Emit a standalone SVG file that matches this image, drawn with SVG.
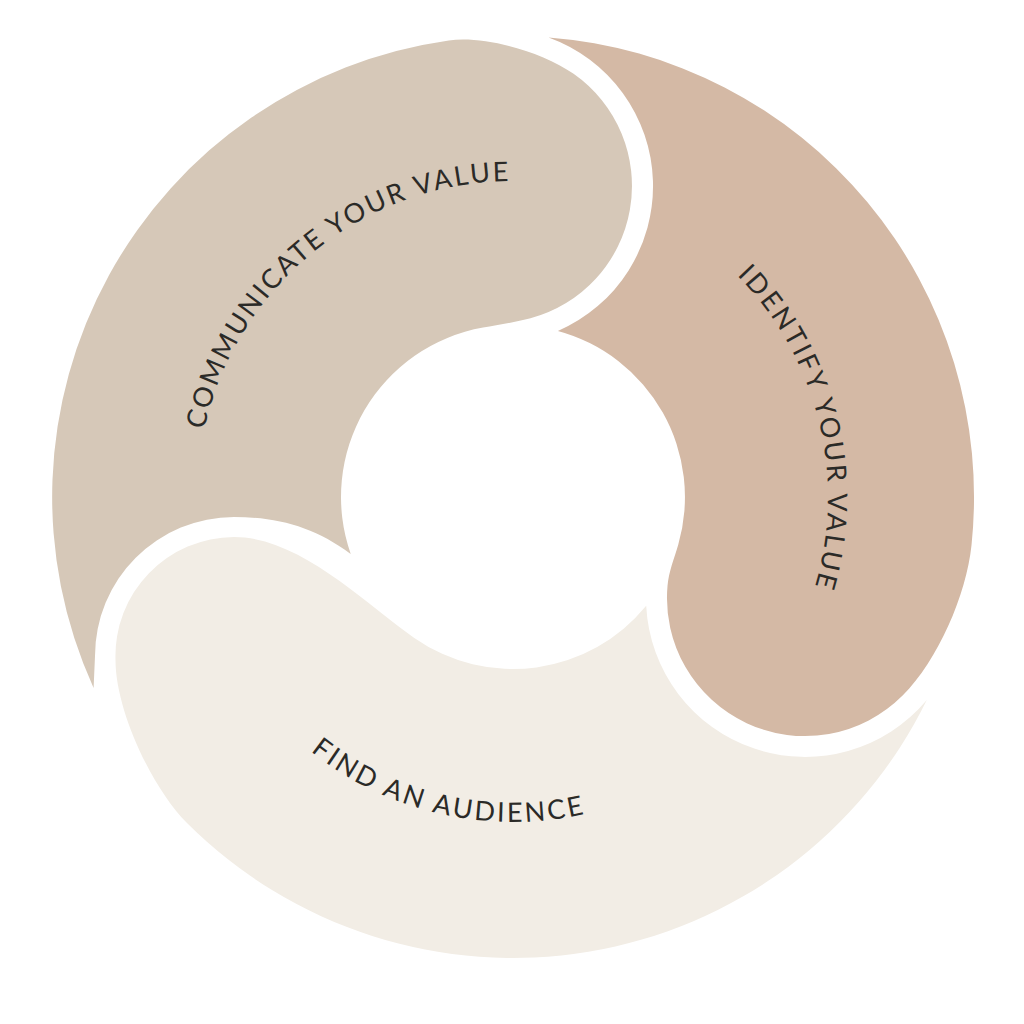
<svg xmlns="http://www.w3.org/2000/svg" width="1024" height="1024" viewBox="0 0 1024 1024">
  <style>
    .label { font-family: "Lato", "Liberation Sans", sans-serif; font-size: 27px; fill: #2b2a27; letter-spacing: 3px; }
    .seg-a { fill: #D6C8B8; }
    .seg-b { fill: #D4B9A5; }
    .seg-c { fill: #F2EDE5; }
  </style>
  <defs>
    <path id="arc-a" d="M 204.3 429.7 A 316 316 0 0 1 511.9 181"/>
    <path id="arc-b" d="M 736.9 275.4 A 315 315 0 0 1 814.2 589.1"/>
    <path id="arc-c" d="M 310.7 751.3 A 325 325 0 0 0 587.2 813.4"/>
  </defs>
  <rect width="1024" height="1024" fill="#ffffff"/>
  <g id="node-communicate">
    <path class="seg-a" d="M 93.6 688 A 461 461 0 0 1 448.8 40.5 C 483.5 35.6 540.8 50.9 573.6 73.8 A 137 137 0 0 1 530.5 318.3 C 516.0 322.2 497.9 325.0 483.1 327.6 A 172 172 0 0 0 350.7 553.9 C 314.5 527.2 279 517 234 517 A 139 139 0 0 0 95 656 L 93.6 688 Z"/>
    <text class="label"><textPath href="#arc-a" textLength="427" lengthAdjust="spacing">COMMUNICATE YOUR VALUE</textPath></text>
  </g>
  <g id="node-identify">
    <path class="seg-b" d="M 548.6 37.4 A 461 461 0 0 1 971.5 545.2 C 966.3 594.9 937.96 660.2 902.6 695.6 A 138 138 0 0 1 667.5 586 C 668.8 571.1 674.2 558.8 678.3 544.4 A 172 172 0 0 0 557.9 331 A 158 158 0 0 0 548.6 37.4 Z"/>
    <text class="label"><textPath href="#arc-b" textLength="339" lengthAdjust="spacing">IDENTIFY YOUR VALUE</textPath></text>
  </g>
  <g id="node-find">
    <path class="seg-c" d="M 926.8 700.1 A 461 461 0 0 1 187 823 C 151.6 787.6 115.5 710 115.5 660 A 119 119 0 0 1 234 537 C 300 537 365.1 603.5 414.3 637.9 A 172 172 0 0 0 646.2 605.8 A 159 159 0 0 0 926.8 700.1 Z"/>
    <text class="label"><textPath href="#arc-c" textLength="293" lengthAdjust="spacing">FIND AN AUDIENCE</textPath></text>
  </g>
  <g id="connectors"/>
</svg>
